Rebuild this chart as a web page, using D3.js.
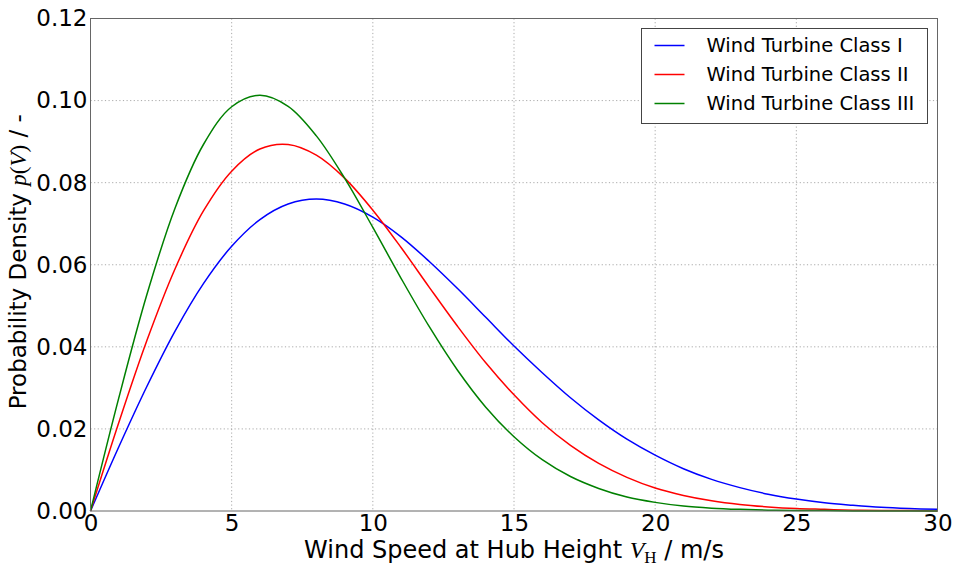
<!DOCTYPE html>
<html>
<head>
<meta charset="utf-8">
<script src="https://cdn.jsdelivr.net/npm/d3@7"></script>
<style>
  body { margin: 0; background: #fff; }
  svg text { font-family: "DejaVu Sans", sans-serif; fill: #000; }
  .math { font-family: "Liberation Serif", "DejaVu Serif", serif; font-style: italic; }
  .grid line { stroke: #aaa; stroke-dasharray: 1.2,2.4; stroke-width: 1; }
</style>
</head>
<body>
<div id="chart"></div>
<script>
// wind speed at hub height (m/s)
const speeds = [0, 1, 2, 3, 4, 5, 6, 7, 8, 9, 10, 11, 12, 13, 14, 15, 16, 17, 18, 19, 20,
                21, 22, 23, 24, 25, 26, 27, 28, 29, 30];

// probability density for each class
const classI = [0, 0.0156, 0.0304, 0.0439, 0.0554, 0.0645, 0.0710, 0.0748, 0.0760, 0.0748,
                0.0716, 0.0668, 0.0608, 0.0542, 0.0472, 0.0402, 0.0337, 0.0276, 0.0222, 0.0175,
                0.0136, 0.0103, 0.0077, 0.0057, 0.0041, 0.0029, 0.0020, 0.0014, 0.0009, 0.0006, 0.0004];
const classII = [0, 0.0215, 0.0416, 0.0591, 0.0731, 0.0828, 0.0882, 0.0893, 0.0867, 0.0811,
                 0.0733, 0.0642, 0.0545, 0.0450, 0.0361, 0.0283, 0.0215, 0.0160, 0.0116, 0.0082,
                 0.0056, 0.0038, 0.0025, 0.0016, 0.0010, 0.0006, 0.0004, 0.0002, 0.0001, 0.0001, 0.0000];
const classIII = [0, 0.0275, 0.0528, 0.0739, 0.0893, 0.0985, 0.1013, 0.0986, 0.0914, 0.0811,
                  0.0691, 0.0567, 0.0449, 0.0343, 0.0253, 0.0181, 0.0125, 0.0084, 0.0055, 0.0034,
                  0.0021, 0.0012, 0.0007, 0.0004, 0.0002, 0.0001, 0.0001, 0.0000, 0.0000, 0.0000, 0.0000];

const seriesNames = ["Wind Turbine Class I", "Wind Turbine Class II", "Wind Turbine Class III"];
const seriesColors = ["#0000ff", "#ff0000", "#008000"];
const xTicks = [0, 5, 10, 15, 20, 25, 30];
const yTicks = [0, 0.02, 0.04, 0.06, 0.08, 0.10, 0.12];

const series = [classI, classII, classIII].map((vals, i) => ({
    name: seriesNames[i],
    color: seriesColors[i],
    points: vals.map((v, j) => ({ x: speeds[j], y: v }))
}));

const W = 968, H = 569;
const margin = {top: 18.5, right: 30.5, bottom: 58, left: 90.5}; // plot area margins
const width = W - margin.left - margin.right;
const height = H - margin.top - margin.bottom;

const svg = d3.select("#chart").append("svg")
    .attr("width", W)
    .attr("height", H);
const g = svg.append("g")
    .attr("transform", `translate(${margin.left},${margin.top})`);

const x = d3.scaleLinear().domain([0, 30]).range([0, width]);
const y = d3.scaleLinear().domain([0, 0.12]).range([height, 0]);

// grid
g.append("g").attr("class", "grid")
    .selectAll("line.v").data(xTicks.slice(1, -1)).enter().append("line")
        .attr("x1", d => x(d)).attr("x2", d => x(d))
        .attr("y1", 0).attr("y2", height);
g.append("g").attr("class", "grid")
    .selectAll("line.h").data(yTicks.slice(1, -1)).enter().append("line")
        .attr("x1", 0).attr("x2", width)
        .attr("y1", d => y(d)).attr("y2", d => y(d));

// curves
const line = d3.line()
    .x(d => x(d.x))
    .y(d => y(d.y))
    .curve(d3.curveCatmullRom.alpha(0.5));

g.selectAll(".series")
    .data(series)
    .enter().append("path")
        .attr("class", "series")
        .attr("fill", "none")
        .attr("stroke", d => d.color)
        .attr("stroke-width", 1.5)
        .attr("d", d => line(d.points));

// axes (no tick marks, labels only)
const xAxis = g.append("g")
    .attr("transform", `translate(0,${height})`)
    .call(d3.axisBottom(x).tickValues(xTicks).tickSize(0).tickPadding(4).tickFormat(d3.format("d")));
xAxis.select(".domain").remove();
xAxis.selectAll("text").style("font-size", "23px");

const yAxis = g.append("g")
    .call(d3.axisLeft(y).tickValues(yTicks).tickSize(0).tickPadding(3).tickFormat(d3.format(".2f")));
yAxis.select(".domain").remove();
yAxis.selectAll("text").style("font-size", "23px");

// frame
g.append("rect")
    .attr("width", width)
    .attr("height", height)
    .attr("fill", "none")
    .attr("stroke", "#666")
    .attr("stroke-width", 1);

// axis titles
const xt = svg.append("text")
    .attr("x", margin.left + width / 2)
    .attr("y", 558)
    .attr("text-anchor", "middle")
    .style("font-size", "24px");
xt.append("tspan").text("Wind Speed at Hub Height ");
xt.append("tspan").attr("class", "math").text("V");
xt.append("tspan").attr("font-family", "Liberation Serif, serif").attr("font-size", "17px").attr("dy", 5).text("H");
xt.append("tspan").attr("dy", -5).text(" / m/s");

const yt = svg.append("text")
    .attr("transform", `translate(26,${margin.top + height / 2 - 3}) rotate(-90)`)
    .attr("text-anchor", "middle")
    .style("font-size", "23px");
yt.append("tspan").text("Probability Density ");
yt.append("tspan").attr("class", "math").text("p");
yt.append("tspan").attr("font-family", "Liberation Serif, serif").text("(");
yt.append("tspan").attr("class", "math").text("V");
yt.append("tspan").attr("font-family", "Liberation Serif, serif").text(")");
yt.append("tspan").text(" / -");

// legend
const legend = svg.append("g").attr("transform", "translate(641.5,28.5)");
legend.append("rect")
    .attr("width", 286)
    .attr("height", 95)
    .attr("fill", "#fff")
    .attr("stroke", "#444")
    .attr("stroke-width", 1);
const items = legend.selectAll(".item")
    .data(series)
    .enter().append("g")
        .attr("class", "item")
        .attr("transform", (d, i) => `translate(0,${17 + i * 29})`);
items.append("line")
    .attr("x1", 13).attr("x2", 43)
    .attr("stroke", d => d.color)
    .attr("stroke-width", 1.5);
items.append("text")
    .attr("x", 65)
    .attr("dy", "0.35em")
    .style("font-size", "19.5px")
    .text(d => d.name);
</script>
</body>
</html>
